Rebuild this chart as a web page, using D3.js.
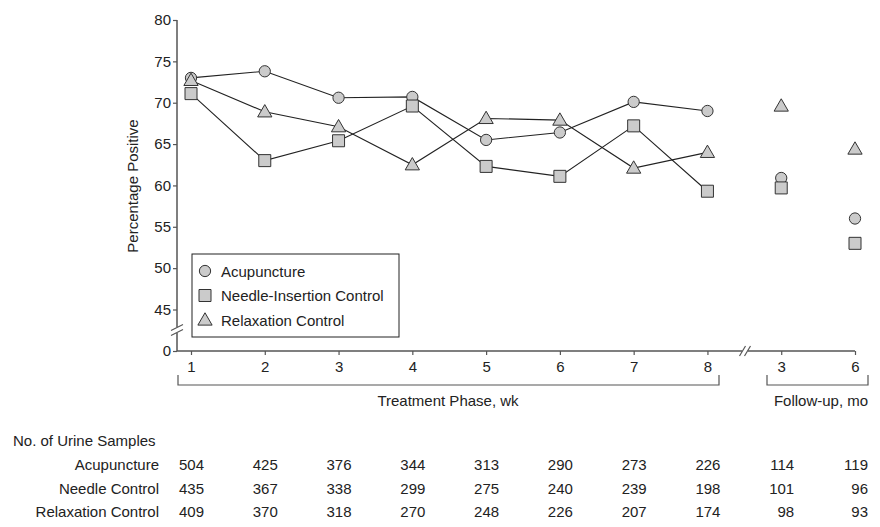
<!DOCTYPE html>
<html lang="en">
<head>
<meta charset="utf-8">
<title>Percentage Positive</title>
<script src="https://d3js.org/d3.v7.min.js"></script>
<style>
  body { margin: 0; background: #fff; }
  svg text { font-family: "Liberation Sans", Arial, sans-serif; fill: #222; }
</style>
</head>
<body>
<script>
// data
const points = ["1", "2", "3", "4", "5", "6", "7", "8", "F3", "F6"];
const tickLabels = ["1", "2", "3", "4", "5", "6", "7", "8", "3", "6"];
const acupuncture = [73.0, 73.8, 70.6, 70.7, 65.5, 66.4, 70.1, 69.0, 60.9, 56.0];
const needle = [71.1, 63.0, 65.4, 69.6, 62.3, 61.1, 67.2, 59.3, 59.7, 53.0];
const relaxation = [72.7, 68.9, 67.1, 62.5, 68.1, 67.9, 62.1, 64.0, 69.6, 64.4];
const seriesNames = ["Acupuncture", "Needle-Insertion Control", "Relaxation Control"];
const rowNames = ["Acupuncture", "Needle Control", "Relaxation Control"];
const samplesAcu = [504, 425, 376, 344, 313, 290, 273, 226, 114, 119];
const samplesNeedle = [435, 367, 338, 299, 275, 240, 239, 198, 101, 96];
const samplesRelax = [409, 370, 318, 270, 248, 226, 207, 174, 98, 93];
const yTicks = [0, 45, 50, 55, 60, 65, 70, 75, 80];

const w = 880, h = 527;
const fs = 15;
const svg = d3.select("body").append("svg").attr("width", w).attr("height", h);

const x = d3.scalePoint().domain(points).range([191, 855]);
// broken axis: 0 then 45..80
const y = d3.scaleLinear().domain([0, 45, 80]).range([351, 309.5, 20]);

const axisColor = "#555";
const fill = "#cbcbcb";
const stroke = "#333";

// y axis
const yAxis = svg.append("g")
  .attr("transform", "translate(177,0)")
  .call(d3.axisLeft(y).tickValues(yTicks).tickSize(4).tickSizeOuter(0));
yAxis.select(".domain").attr("stroke", axisColor).attr("stroke-width", 1.5)
  .attr("d", "M0,20V351");
yAxis.selectAll(".tick line").attr("stroke", axisColor).attr("stroke-width", 1.2);
yAxis.selectAll(".tick text").attr("font-size", fs).attr("x", -6);

// x axis
const xAxis = svg.append("g")
  .attr("transform", "translate(0,351)")
  .call(d3.axisBottom(x).tickSize(4).tickSizeOuter(0).tickFormat((d, i) => tickLabels[i]));
xAxis.select(".domain").attr("stroke", axisColor).attr("stroke-width", 1.5)
  .attr("d", "M177,0H855");
xAxis.selectAll(".tick line").attr("stroke", axisColor).attr("stroke-width", 1.2);
xAxis.selectAll(".tick text").attr("font-size", fs).attr("dy", "0.95em");

// axis break marks
function breakMark(cx, cy, vertical) {
  const g = svg.append("g");
  if (vertical) {
    g.append("rect").attr("x", cx - 4).attr("y", cy - 3).attr("width", 8).attr("height", 6).attr("fill", "#fff");
    [-2.5, 2.5].forEach(o => g.append("line")
      .attr("x1", cx - 6).attr("y1", cy + o + 3).attr("x2", cx + 6).attr("y2", cy + o - 3)
      .attr("stroke", axisColor).attr("stroke-width", 1.2));
  } else {
    g.append("rect").attr("x", cx - 3).attr("y", cy - 4).attr("width", 6).attr("height", 8).attr("fill", "#fff");
    [-2.5, 2.5].forEach(o => g.append("line")
      .attr("x1", cx + o - 3).attr("y1", cy + 5).attr("x2", cx + o + 3).attr("y2", cy - 5)
      .attr("stroke", axisColor).attr("stroke-width", 1.2));
  }
}
breakMark(177, 330, true);
breakMark(745, 351, false);

// y label
svg.append("text")
  .attr("transform", "translate(138,186) rotate(-90)")
  .attr("text-anchor", "middle").attr("font-size", fs)
  .text("Percentage Positive");

// brackets
function bracket(x1, x2, label, lx) {
  svg.append("path")
    .attr("d", `M${x1},375V385H${x2}V375`)
    .attr("fill", "none").attr("stroke", axisColor).attr("stroke-width", 1.2);
  svg.append("text").attr("x", lx).attr("y", 406).attr("text-anchor", "middle")
    .attr("font-size", fs).text(label);
}
bracket(178, 719, "Treatment Phase, wk", 448);
bracket(767, 868, "Follow-up, mo", 821);

// markers
const shapes = [d3.symbolCircle, d3.symbolSquare, d3.symbolTriangle];
const sizes = [100, 144, 88];
const allSeries = [acupuncture, needle, relaxation];

const line = d3.line().x((d, i) => x(points[i])).y(d => y(d));

allSeries.forEach((vals, s) => {
  svg.append("path")
    .datum(vals.slice(0, 8))
    .attr("d", line)
    .attr("fill", "none").attr("stroke", "#222").attr("stroke-width", 1.1);
});
allSeries.forEach((vals, s) => {
  svg.append("g").selectAll("path")
    .data(vals)
    .join("path")
    .attr("transform", (d, i) => `translate(${x(points[i])},${y(d) + (s === 2 ? 1 : 0)})`)
    .attr("d", d3.symbol().type(shapes[s]).size(sizes[s]))
    .attr("fill", fill).attr("stroke", stroke).attr("stroke-width", 1);
});

// legend
const leg = svg.append("g");
leg.append("rect").attr("x", 192).attr("y", 254).attr("width", 207).attr("height", 83)
  .attr("fill", "#fff").attr("stroke", "#222").attr("stroke-width", 1);
seriesNames.forEach((name, i) => {
  const ly = 271 + i * 24.5;
  leg.append("path")
    .attr("transform", `translate(205,${ly + (i === 2 ? 1 : 0)})`)
    .attr("d", d3.symbol().type(shapes[i]).size(sizes[i]))
    .attr("fill", fill).attr("stroke", stroke).attr("stroke-width", 1);
  leg.append("text").attr("x", 221).attr("y", ly + 5.5).attr("font-size", fs).text(name);
});

// sample table
svg.append("text").attr("x", 13).attr("y", 446).attr("font-size", fs).text("No. of Urine Samples");
const rows = [samplesAcu, samplesNeedle, samplesRelax];
rows.forEach((vals, r) => {
  const ry = 470 + r * 23.5;
  svg.append("text").attr("x", 159).attr("y", ry).attr("text-anchor", "end")
    .attr("font-size", fs).text(rowNames[r]);
  svg.append("g").selectAll("text")
    .data(vals)
    .join("text")
    .attr("x", (d, i) => x(points[i]) + 13)
    .attr("y", ry)
    .attr("text-anchor", "end")
    .attr("font-size", fs)
    .text(d => d);
});
</script>
</body>
</html>
